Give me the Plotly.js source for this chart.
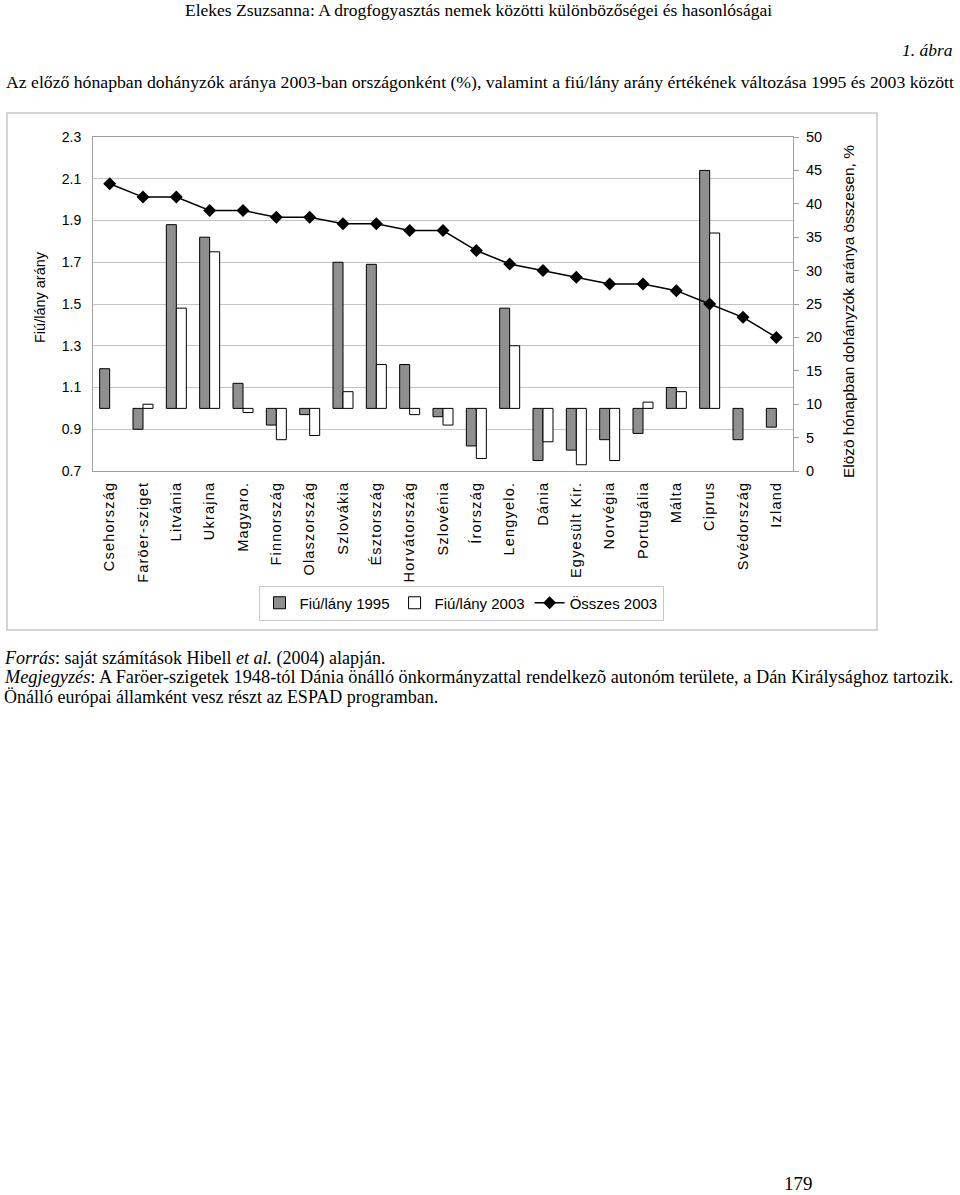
<!DOCTYPE html>
<html>
<head>
<meta charset="utf-8">
<script src="https://cdn.plot.ly/plotly-3.0.1.min.js"></script>
<style>
html,body{margin:0;padding:0;background:#fff;}
#chart{width:960px;height:1195px;}
.xtick text{letter-spacing:1.2px;}
</style>
</head>
<body>
<div id="chart"></div>
<script>
const countries = ["Csehország","Faröer-sziget","Litvánia","Ukrajna","Magyaro.","Finnország","Olaszország","Szlovákia","Észtország","Horvátország","Szlovénia","Írország","Lengyelo.","Dánia","Egyesült Kir.","Norvégia","Portugália","Málta","Ciprus","Svédország","Izland"];
const ratio1995 = [1.19,0.90,1.88,1.82,1.12,0.92,0.97,1.70,1.69,1.21,0.96,0.82,1.48,0.75,0.80,0.85,0.88,1.10,2.14,0.85,0.91];
const ratio2003 = [null,1.02,1.48,1.75,0.98,0.85,0.87,1.08,1.21,0.97,0.92,0.76,1.30,0.84,0.73,0.75,1.03,1.08,1.84,null,null];
const total2003 = [43,41,41,39,39,38,38,37,37,36,36,33,31,30,29,28,28,27,25,23,20];
const leftTicks = [0.7,0.9,1.1,1.3,1.5,1.7,1.9,2.1,2.3];
const rightTicks = [0,5,10,15,20,25,30,35,40,45,50];
const baseRatio = 1.0;

const serif = "Liberation Serif, Times New Roman, serif";
const sans = "Liberation Sans, Arial, sans-serif";

const traces = [
  {type:"bar", name:"Fiú/lány 1995", x:countries, base:baseRatio,
   y:ratio1995.map(v => v==null ? null : v-baseRatio),
   marker:{color:"#8f8f8f", line:{color:"#000", width:1}}, yaxis:"y"},
  {type:"bar", name:"Fiú/lány 2003", x:countries, base:baseRatio,
   y:ratio2003.map(v => v==null ? null : v-baseRatio),
   marker:{color:"#fff", line:{color:"#000", width:1}}, yaxis:"y"},
  {type:"scatter", mode:"lines+markers", name:"Összes 2003", x:countries, y:total2003,
   yaxis:"y2", line:{color:"#000", width:1.5},
   marker:{symbol:"diamond", size:10, color:"#000"}}
];

// paper coordinates helpers (plot area: x 93-793, y 137-471)
const px = x => (x-93)/700;
const py = y => (471-y)/334;

const boundaries = countries.slice(1).map((c,i)=> i+0.5);

const layout = {
  width:960, height:1195,
  margin:{l:93, r:167, t:137, b:724},
  paper_bgcolor:"#fff", plot_bgcolor:"#fff",
  showlegend:true,
  legend:{orientation:"h", x:px(461), xanchor:"center", y:py(603), yanchor:"middle",
          font:{family:sans, size:15, color:"#000"}, bordercolor:"#c8c8c8", borderwidth:1,
          itemwidth:30, tracegroupgap:0, traceorder:"normal"},
  bargap:0.4, bargroupgap:0, barmode:"group",
  xaxis:{type:"category", showgrid:false, showline:true, linecolor:"#a0a0a0", mirror:true,
         ticks:"", tickangle:-90, tickfont:{family:sans, size:14.5, color:"#000"},
         ticklabelstandoff:4, anchor:"y", range:[-0.5, countries.length-0.5]},
  xaxis2:{type:"linear", overlaying:"x", anchor:"free", position:(baseRatio-0.7)/1.6,
          range:[-0.5, countries.length-0.5], tickvals:boundaries, showticklabels:false,
          ticks:"outside", ticklen:4, tickcolor:"#a0a0a0", showgrid:false, showline:true,
          linecolor:"#c8c8c8", zeroline:false},
  yaxis:{range:[0.7,2.3], tickvals:leftTicks, ticktext:leftTicks.map(v=>v.toFixed(1)),
         showgrid:true, gridcolor:"#c4c4c4", gridwidth:1, zeroline:false,
         showline:true, linecolor:"#a0a0a0", mirror:true, ticks:"",
         ticklabelstandoff:8, tickfont:{family:sans, size:14, color:"#000"}},
  yaxis2:{range:[0,50], tickvals:rightTicks, overlaying:"y", side:"right", showgrid:false,
          zeroline:false, showline:true, linecolor:"#a0a0a0", ticks:"outside", ticklen:5,
          tickcolor:"#a0a0a0", ticklabelstandoff:4, tickfont:{family:sans, size:14.5, color:"#000"}},
  shapes:[
    {type:"rect", xref:"paper", yref:"paper", x0:px(7), x1:px(877), y0:py(630), y1:py(113),
     line:{color:"#c8c8c8", width:1.5}, fillcolor:"rgba(0,0,0,0)", layer:"below"}
  ],
  annotations:[
    {text:"Elekes Zsuzsanna: A drogfogyasztás nemek közötti különbözőségei és hasonlóságai",
     xref:"paper", yref:"paper", x:px(478), y:py(10), xanchor:"center", yanchor:"middle",
     showarrow:false, font:{family:serif, size:17.5, color:"#000"}},
    {text:"<i>1. ábra</i>", xref:"paper", yref:"paper", x:px(955), y:py(50), xanchor:"right", yanchor:"middle",
     showarrow:false, font:{family:serif, size:17.5, color:"#000"}},
    {text:"Az előző hónapban dohányzók aránya 2003-ban országonként (%), valamint a fiú/lány arány értékének változása 1995 és 2003 között",
     xref:"paper", yref:"paper", x:px(4), y:py(82), xanchor:"left", yanchor:"middle",
     showarrow:false, font:{family:serif, size:17.7, color:"#000"}},
    {text:"Fiú/lány arány", xref:"paper", yref:"paper", x:px(40), y:py(297), xanchor:"center", yanchor:"middle",
     textangle:-90, showarrow:false, font:{family:sans, size:14.5, color:"#000"}},
    {text:"Elözö hónapban dohányzók aránya összesen, %", xref:"paper", yref:"paper", x:px(848), y:py(312),
     xanchor:"center", yanchor:"middle", textangle:-90, showarrow:false, font:{family:sans, size:15.4, color:"#000"}},
    {text:"<i>Forrás</i>: saját számítások Hibell <i>et al.</i> (2004) alapján.", xref:"paper", yref:"paper",
     x:px(2), y:py(658), xanchor:"left", yanchor:"middle", showarrow:false, font:{family:serif, size:18, color:"#000"}},
    {text:"<i>Megjegyzés</i>: A Faröer-szigetek 1948-tól Dánia önálló önkormányzattal rendelkezõ autonóm területe, a Dán Királysághoz tartozik.",
     xref:"paper", yref:"paper", x:px(2), y:py(677), xanchor:"left", yanchor:"middle", showarrow:false,
     font:{family:serif, size:18.3, color:"#000"}},
    {text:"Önálló európai államként vesz részt az ESPAD programban.", xref:"paper", yref:"paper",
     x:px(2), y:py(697), xanchor:"left", yanchor:"middle", showarrow:false, font:{family:serif, size:18, color:"#000"}},
    {text:"179", xref:"paper", yref:"paper", x:px(798), y:py(1183), xanchor:"center", yanchor:"middle",
     showarrow:false, font:{family:serif, size:19, color:"#000"}}
  ]
};

Plotly.newPlot("chart", traces, layout, {displayModeBar:false, staticPlot:true});
</script>
</body>
</html>
